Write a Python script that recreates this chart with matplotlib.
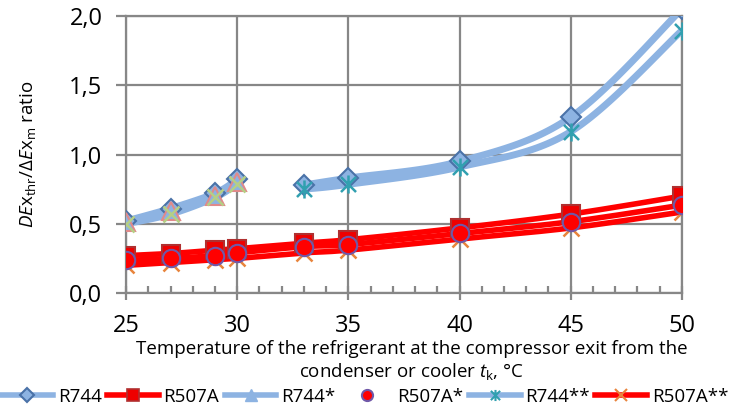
import numpy as np
import matplotlib.pyplot as plt
from matplotlib.path import Path
from matplotlib.lines import Line2D
from matplotlib.ticker import MultipleLocator, FuncFormatter

plt.rcParams['font.family'] = ['Open Sans', 'DejaVu Sans']
plt.rcParams['mathtext.fontset'] = 'custom'
plt.rcParams['mathtext.rm'] = 'Open Sans'
plt.rcParams['mathtext.it'] = 'Open Sans:italic'

# temperatures, degC
x_low = [25, 27, 29, 30]
x_high = [33, 35, 40, 45, 50]
x_all = [25, 27, 29, 30, 33, 35, 40, 45, 50]

# R744 (CO2), two temperature ranges
r744_low = [0.52, 0.61, 0.72, 0.82]
r744_high = [0.78, 0.83, 0.95, 1.27, 2.05]
r744s_low = [0.51, 0.59, 0.70, 0.80]
r744ss_low = [0.50, 0.57, 0.69, 0.79]
r744ss_high = [0.75, 0.785, 0.91, 1.165, 1.895]

# R507A over the whole range
r507a = [0.27, 0.285, 0.31, 0.32, 0.36, 0.385, 0.47, 0.57, 0.70]
r507a_s = [0.235, 0.25, 0.27, 0.29, 0.335, 0.35, 0.43, 0.515, 0.635]
r507a_ss = [0.20, 0.22, 0.24, 0.25, 0.29, 0.31, 0.39, 0.47, 0.585]

BLUE = '#8db3e2'
RED = '#ff0000'
GRID = '#878787'

# excel-style asterisk: an X with a vertical stroke
star = Path([(-1, -1), (1, 1), (-1, 1), (1, -1), (0, -1.2), (0, 1.2)],
            [Path.MOVETO, Path.LINETO, Path.MOVETO, Path.LINETO, Path.MOVETO, Path.LINETO])


def smooth(xs, ys, n=30):
    # uniform Catmull-Rom through the points, like a smoothed line in a spreadsheet
    xs = np.asarray(xs, float)
    ys = np.asarray(ys, float)
    px = np.r_[xs[0], xs, xs[-1]]
    py = np.r_[ys[0], ys, ys[-1]]
    t = np.linspace(0, 1, n)
    ox, oy = [], []
    for i in range(len(xs) - 1):
        for p, o in ((px, ox), (py, oy)):
            p0, p1, p2, p3 = p[i], p[i + 1], p[i + 2], p[i + 3]
            o.extend(0.5 * (2 * p1 + (-p0 + p2) * t + (2 * p0 - 5 * p1 + 4 * p2 - p3) * t ** 2
                            + (-p0 + 3 * p1 - 3 * p2 + p3) * t ** 3))
    return ox, oy


fig = plt.figure(figsize=(7.46, 4.11), dpi=100)
ax = fig.add_axes([0.169, 0.287, 0.745, 0.674])

# lines
for xs, ys in [(x_low, r744_low), (x_high, r744_high), (x_low, r744s_low),
               (x_low, r744ss_low), (x_high, r744ss_high)]:
    ax.plot(*smooth(xs, ys), color=BLUE, lw=5, solid_capstyle='butt', zorder=3)
for ys in (r507a, r507a_s, r507a_ss):
    ax.plot(*smooth(x_all, ys), color=RED, lw=4, solid_capstyle='butt', zorder=3)

# markers
mk = dict(ls='none', zorder=5)
ax.plot(x_low + x_high, r744_low + r744_high, marker='D', ms=10, mfc=BLUE, mec='#4a72a8', mew=1.5, **mk)
ax.plot(x_low, r744s_low, marker='^', ms=13, mfc=BLUE, mec='#e08a8a', mew=1.5, **mk)
ax.plot(x_low, r744ss_low, marker='x', ms=12, mec='#b5cf85', mew=1.8, **mk)
ax.plot(x_high, r744ss_high, marker=star, ms=13, mec='#31a0b0', mew=1.8, **mk)
ax.plot(x_all, r507a, marker='s', ms=13, mfc='#ee0000', mec='#b03030', mew=1.5, **mk)
ax.plot(x_all, r507a_ss, marker='x', ms=11, mec='#e8843c', mew=1.8, ls='none', zorder=5.5)
ax.plot(x_all, r507a_s, marker='o', ms=12.5, mfc=RED, mec='#7058a8', mew=1.5, ls='none', zorder=6)

ax.set_xlim(25, 50)
ax.set_ylim(0, 2)
ax.xaxis.set_major_locator(MultipleLocator(5))
ax.xaxis.set_minor_locator(MultipleLocator(1))
ax.yaxis.set_major_locator(MultipleLocator(0.5))
ax.yaxis.set_major_formatter(FuncFormatter(lambda v, p: f'{v:.1f}'.replace('.', ',')))
ax.grid(True, which='major', color=GRID, lw=1.6, zorder=0)
ax.set_axisbelow(True)
for s in ax.spines.values():
    s.set_color(GRID)
    s.set_linewidth(1.6)
ax.tick_params(axis='x', which='major', direction='inout', length=10, width=1.6, color=GRID,
               labelsize=17, pad=10)
ax.tick_params(axis='x', which='minor', direction='in', length=5, width=1.6, color=GRID)
ax.tick_params(axis='y', which='major', direction='out', length=7, width=1.6, color=GRID,
               labelsize=17, pad=10)

fig.text(0.552, 1 - 361 / 411,
         'Temperature of the refrigerant at the compressor exit from the\n'
         r'condenser or cooler $t_{\mathrm{k}}$, °C',
         fontsize=13.5, ha='center', va='center', multialignment='center', linespacing=1.2)
fig.text(28 / 746, 1 - 154 / 411,
         r'$DE\mathrm{x}_{\mathrm{thr}}/\Delta E\mathrm{x}_{\mathrm{m}}$ ratio',
         fontsize=13.5, rotation=90, ha='center', va='center')

handles = [
    Line2D([], [], color=BLUE, lw=4, marker='D', ms=7, mfc=BLUE, mec='#4a72a8', mew=1.5),
    Line2D([], [], color=RED, lw=4, marker='s', ms=9, mfc='#ee0000', mec='#b03030', mew=1.2),
    Line2D([], [], color=BLUE, lw=4, marker='^', ms=8, mfc=BLUE, mec=BLUE),
    Line2D([], [], ls='none', marker='o', ms=8, mfc=RED, mec='#7058a8', mew=1.5),
    Line2D([], [], color=BLUE, lw=4, marker=star, ms=8, mec='#31a0b0', mew=1.5),
    Line2D([], [], color=RED, lw=4, marker='x', ms=8, mec='#e8843c', mew=1.5),
]
labels = ['R744', 'R507A', 'R744*', 'R507A*', 'R744**', 'R507A**']
fig.legend(handles, labels, loc='center left', bbox_to_anchor=(0.002, 1 - 397 / 411), ncol=6,
           frameon=False, fontsize=13.5, handlelength=2.75, handletextpad=0.25,
           columnspacing=0.3, borderpad=0, borderaxespad=0)

fig.savefig('out.png', dpi=100)
